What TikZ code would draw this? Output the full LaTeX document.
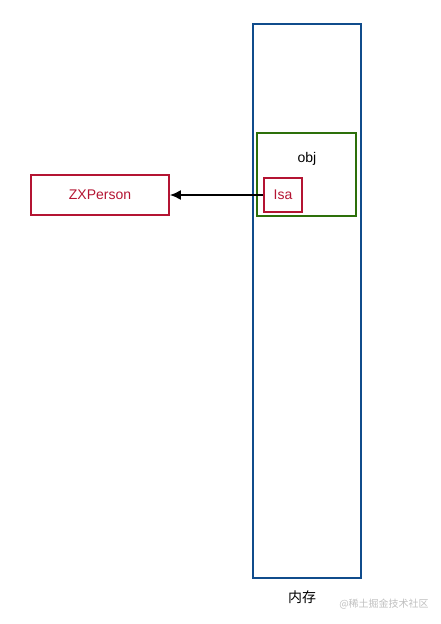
\documentclass[tikz,border=0pt]{standalone}
\usepackage{fontspec}
\setmainfont{Liberation Sans}
\newfontfamily\cjk{Noto Sans CJK SC}
\usepackage{xcolor}
\usetikzlibrary{positioning, arrows.meta}

\definecolor{memblue}{RGB}{16,76,140}
\definecolor{objgreen}{RGB}{45,112,10}
\definecolor{refred}{RGB}{180,20,50}

\tikzset{
	membox/.style={draw=memblue, line width=1.8pt, minimum width=108pt, minimum height=554pt, inner sep=0pt},
	objbox/.style={draw=objgreen, line width=1.8pt, minimum width=99pt, minimum height=83pt, inner sep=0pt},
	refbox/.style={draw=refred, line width=1.8pt, text=refred, inner sep=0pt}
}

\begin{document}
\begin{tikzpicture}[x=1pt, y=-1pt, font=\fontsize{14}{16}\selectfont]
			\useasboundingbox (0,0) rectangle (440,624);

			\begin{scope}
				\node [membox] (mem) at (307,301) {};
				\node [below=8pt of mem.south, xshift=-5pt, font=\cjk\fontsize{14}{16}\selectfont] (memlabel) {内存};
				\node [objbox] (obj) at (306.5,174.5) {};
				\node (objlabel) at (307,159) {obj};
				\node [refbox, minimum width=38pt, minimum height=34pt] (isa) at (283,195) {Isa};
			\end{scope}

			\begin{scope}
				\node [refbox, minimum width=138pt, minimum height=40pt] (person) at (100,195) {ZXPerson};
				\draw [-{Latex[length=11pt, width=10pt]}, line width=1.6pt] (isa.west) -- (person.east);
			\end{scope}

			% watermark
			\node [text=black!25, font=\cjk\fontsize{10}{12}\selectfont] (mark) at (384,604) {@稀土掘金技术社区};
		\end{tikzpicture}
\end{document}
